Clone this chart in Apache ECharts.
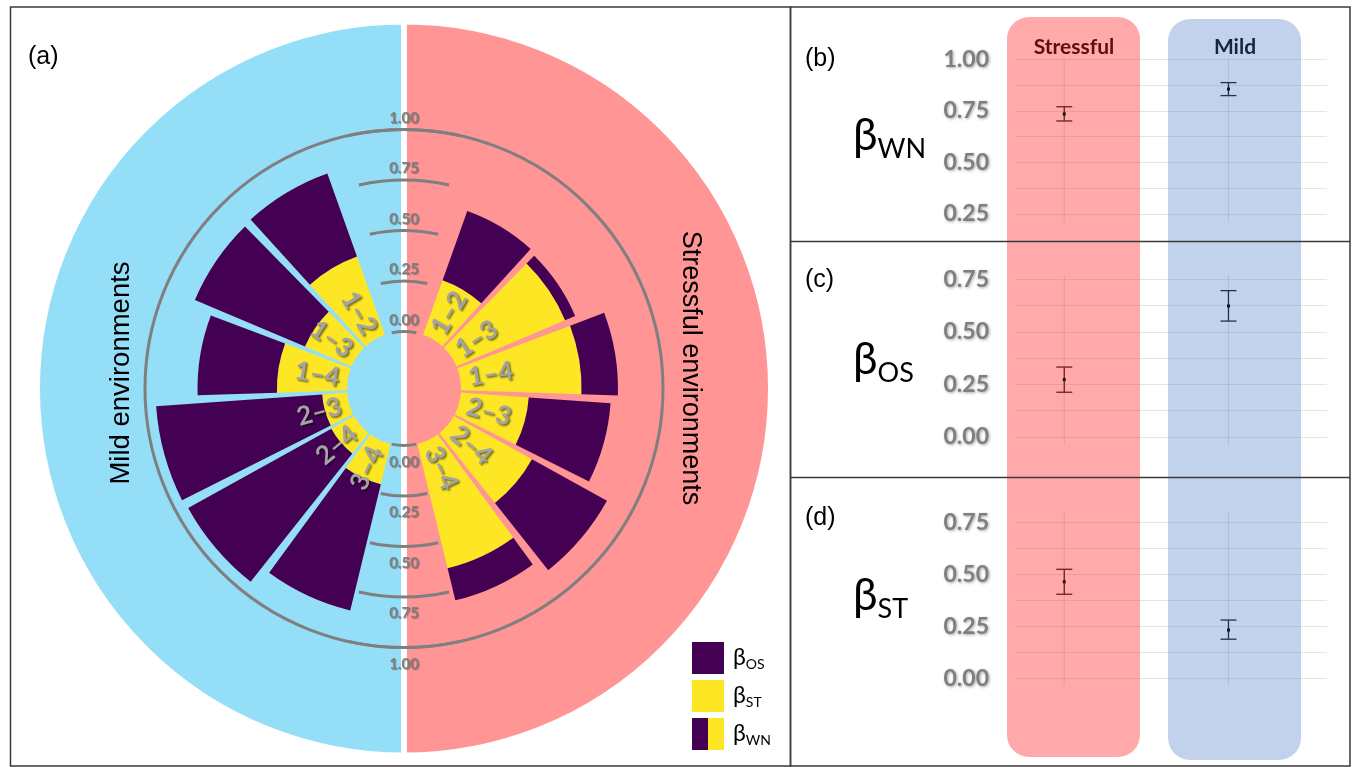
<!DOCTYPE html>
<html><head><meta charset="utf-8">
<script src="https://cdn.jsdelivr.net/npm/echarts@6/dist/echarts.min.js"></script>
<style>html,body{margin:0;padding:0;background:#fff}#c{width:1353px;height:767px}</style>
</head><body><div id="c"></div>
<script>
// ---------- data ----------
const pairs = ['1–2', '1–3', '1–4', '2–3', '2–4', '3–4'];
const stressST = [0.287, 0.584, 0.597, 0.337, 0.442, 0.634];
const stressOS = [0.364, 0.054, 0.180, 0.406, 0.424, 0.163];
const mildST = [0.411, 0.250, 0.347, 0.124, 0.129, 0.205];
const mildOS = [0.437, 0.592, 0.393, 0.824, 0.810, 0.643];
const envNames = ['Stressful environments', 'Mild environments'];
const envShares = [1, 1];
const groups = ['Stressful', 'Mild'];
const wnMean = [0.735, 0.856], wnLo = [0.701, 0.824], wnHi = [0.770, 0.887];
const osMean = [0.272, 0.623], osLo = [0.212, 0.551], osHi = [0.332, 0.696];
const stMean = [0.464, 0.232], stLo = [0.404, 0.188], stHi = [0.524, 0.280];
const betaNames = ['OS', 'ST', 'WN'];
const panelSubs = ['WN', 'OS', 'ST'];
const panelLetters = ['(a)', '(b)', '(c)', '(d)'];

// ---------- style / layout ----------
const PURPLE = '#440154', YELLOW = '#FDE725';
const RED_BG = '#FF9595', BLUE_BG = '#95DEF7';
const CX = 404, CY = 388.5, R0 = 57, R1 = 259;
const off = {axisLine:{show:false}, axisTick:{show:false}, axisLabel:{show:false}, splitLine:{show:false}, splitArea:{show:false}};
const greyTxt = {color:'#7f7f7f', fontWeight:'bold', fontFamily:'Lato', textShadowColor:'rgba(0,0,0,0.35)', textShadowBlur:2, textShadowOffsetX:1, textShadowOffsetY:1};

const chart = echarts.init(document.getElementById('c'), null, {width:1353, height:767});

function labelItem(params, api) {
  const cs = params.coordSys;
  const p = api.coord([api.value(0), api.value(1)]);
  const th = Math.atan2(p[1] - cs.cy, p[0] - cs.cx);
  let rot = -th;
  if (Math.abs(th) > Math.PI / 2) rot += Math.PI;
  return {type:'text', x:p[0], y:p[1], rotation:rot, z2:10,
    style:{text:pairs[api.value(1)], fill:'#a3a3a3', fontSize:26, fontWeight:'bold', fontFamily:'Lato',
      align:'center', verticalAlign:'middle',
      textShadowColor:'rgba(0,0,0,0.55)', textShadowBlur:2, textShadowOffsetX:1.5, textShadowOffsetY:1.5}};
}
const LABEL_R = 0.153;
function labelData() { return pairs.map((p, i) => [LABEL_R, i]); }

const panelRanges = [[0.21, 1.006], [-0.04, 0.77], [-0.036, 0.798]];
const ebColors = ['#6e1f24', '#22304d'];
function ebRender(k) {
  return function (params, api) {
    const x = api.value(0), m = api.value(1), lo = api.value(2), hi = api.value(3);
    const pm = api.coord([x, m]), pl = api.coord([x, lo]), ph = api.coord([x, hi]);
    const g0 = api.coord([x, panelRanges[k][0]]), g1 = api.coord([x, panelRanges[k][1]]);
    const col = ebColors[params.dataIndex], hw = 8;
    const ls = {stroke:col, lineWidth:1.3};
    return {type:'group', children:[
      {type:'line', shape:{x1:g0[0], y1:g0[1], x2:g1[0], y2:g1[1]}, style:{stroke:'rgba(90,90,110,0.16)', lineWidth:1}},
      {type:'line', shape:{x1:pl[0], y1:pl[1], x2:ph[0], y2:ph[1]}, style:ls},
      {type:'line', shape:{x1:pl[0]-hw, y1:pl[1], x2:pl[0]+hw, y2:pl[1]}, style:ls},
      {type:'line', shape:{x1:ph[0]-hw, y1:ph[1], x2:ph[0]+hw, y2:ph[1]}, style:ls},
      {type:'rect', shape:{x:pm[0]-1.5, y:pm[1]-1.5, width:3, height:3}, style:{fill:'#151515'}}
    ]};
  };
}
function ebData(mean, lo, hi) { return groups.map((g, i) => [i + 1, mean[i], lo[i], hi[i]]); }

const gridDefs = [
  {top:58.06, height:181.75, min:0.125, max:1.006},
  {top:275.1, height:187.9, min:-0.125, max:0.77},
  {top:512.3, height:192.0, min:-0.125, max:0.798}
];
const quarterFmt = v => (Math.abs(v * 4 - Math.round(v * 4)) < 1e-6 ? v.toFixed(2) : '');

const richBig = {
  b:{fontSize:44, lineHeight:44, fontFamily:'Lato', color:'#000'},
  s:{fontSize:27, lineHeight:27, fontFamily:'Lato', color:'#000', padding:[26,0,0,0]}
};
const richLeg = {
  b:{fontSize:23, lineHeight:23, fontFamily:'Lato', color:'#000', padding:[0,0,0,4]},
  s:{fontSize:14, lineHeight:14, fontFamily:'Lato', color:'#000', padding:[12,0,0,0]}
};

const graphics = [
  {type:'rect', z:-10, shape:{x:1007, y:17, width:133, height:740, r:22}, style:{fill:'#FFA9AB'}},
  {type:'rect', z:-10, shape:{x:1168, y:19, width:133, height:741, r:22}, style:{fill:'#C2D2EC'}},
  {type:'text', x:1074, y:47, style:{text:groups[0], fill:'#5b0f12', fontSize:21, fontWeight:'bold', fontFamily:'Lato', align:'center', verticalAlign:'middle'}},
  {type:'text', x:1235, y:47, style:{text:groups[1], fill:'#172440', fontSize:21, fontWeight:'bold', fontFamily:'Lato', align:'center', verticalAlign:'middle'}},
  {type:'text', x:121, y:373, rotation:Math.PI/2, style:{text:envNames[1], fill:'#000', fontSize:27.5, fontFamily:'Liberation Sans', align:'center', verticalAlign:'middle'}},
  {type:'text', x:690, y:368, rotation:-Math.PI/2, style:{text:envNames[0], fill:'#000', fontSize:27, fontFamily:'Liberation Sans', align:'center', verticalAlign:'middle'}},
  {type:'text', x:28, y:57, style:{text:panelLetters[0], fill:'#000', fontSize:25, fontFamily:'Liberation Sans', verticalAlign:'middle'}},
  {type:'text', x:805, y:59, style:{text:panelLetters[1], fill:'#000', fontSize:25, fontFamily:'Liberation Sans', verticalAlign:'middle'}},
  {type:'text', x:805, y:280, style:{text:panelLetters[2], fill:'#000', fontSize:25, fontFamily:'Liberation Sans', verticalAlign:'middle'}},
  {type:'text', x:805, y:518, style:{text:panelLetters[3], fill:'#000', fontSize:25, fontFamily:'Liberation Sans', verticalAlign:'middle'}},
  {type:'text', x:853, y:136, style:{text:'{b|β}{s|' + panelSubs[0] + '}', rich:richBig, verticalAlign:'middle'}},
  {type:'text', x:853, y:360, style:{text:'{b|β}{s|' + panelSubs[1] + '}', rich:richBig, verticalAlign:'middle'}},
  {type:'text', x:853, y:596, style:{text:'{b|β}{s|' + panelSubs[2] + '}', rich:richBig, verticalAlign:'middle'}},
  {type:'rect', z:20, shape:{x:10.5, y:7, width:780, height:759}, style:{fill:null, stroke:'#3a3a3a', lineWidth:1.5}},
  {type:'rect', z:20, shape:{x:790.5, y:7, width:559.5, height:759}, style:{fill:null, stroke:'#3a3a3a', lineWidth:1.5}},
  {type:'line', z:20, shape:{x1:790.5, y1:241.5, x2:1350, y2:241.5}, style:{stroke:'#3a3a3a', lineWidth:1.5}},
  {type:'line', z:20, shape:{x1:790.5, y1:477.5, x2:1350, y2:477.5}, style:{stroke:'#3a3a3a', lineWidth:1.5}}
];

const labelAxisBase = {...off, min:0, max:1, interval:0.25};
const labelStyle = {show:true, margin:0, align:'center', fontSize:15, formatter:v => v.toFixed(2), ...greyTxt, textShadowBlur:1};

const option = {
  animation:false,
  backgroundColor:'#ffffff',
  polar:[0,1,2,3,4,5].map(() => ({center:[CX, CY], radius:[R0, R1]})).concat([{center:[CX, CY], radius:[0, R1]}]),
  angleAxis:[
    {...off, polarIndex:0, type:'category', data:pairs, startAngle:71.5, endAngle:-77.5, clockwise:true},
    {...off, polarIndex:1, type:'category', data:pairs, startAngle:108.5, endAngle:257.5, clockwise:false},
    {...off, polarIndex:2, type:'value', min:0, max:1, startAngle:102.5, endAngle:77.5, clockwise:true},
    {...off, polarIndex:3, type:'value', min:0, max:1, startAngle:257.5, endAngle:282.5, clockwise:false},
    {...off, polarIndex:4, type:'value', min:0, max:1, startAngle:90},
    {...off, polarIndex:5, type:'value', min:0, max:1, startAngle:270},
    {...off, polarIndex:6, type:'value', min:0, max:1, startAngle:90, axisLine:{show:true, lineStyle:{color:'#7f7f7f', width:3}}}
  ],
  radiusAxis:[
    {...off, polarIndex:0, type:'value', min:0, max:1},
    {...off, polarIndex:1, type:'value', min:0, max:1},
    {...labelAxisBase, polarIndex:2, splitLine:{show:true, lineStyle:{color:'#7f7f7f', width:3}}},
    {...labelAxisBase, polarIndex:3, splitLine:{show:true, lineStyle:{color:'#7f7f7f', width:3}}},
    {...labelAxisBase, polarIndex:4, axisLabel:{...labelStyle, verticalAlign:'bottom', padding:[0,0,4,0]}},
    {...labelAxisBase, polarIndex:5, axisLabel:{...labelStyle, verticalAlign:'top', padding:[9,0,0,0]}},
    {...off, polarIndex:6, type:'value', min:0, max:1}
  ],
  grid:gridDefs.map(g => ({left:1015, width:312, top:g.top, height:g.height})),
  xAxis:gridDefs.map((g, i) => ({type:'value', gridIndex:i, min:0.7, max:2.6, show:false})),
  yAxis:gridDefs.map((g, i) => ({type:'value', gridIndex:i, min:g.min, max:g.max, interval:0.125,
    axisLine:{show:false}, axisTick:{show:false},
    splitLine:{show:true, showMinLine:false, showMaxLine:false, lineStyle:{color:'rgba(120,120,130,0.2)', width:1}},
    axisLabel:{margin:26, fontSize:23, formatter:quarterFmt, ...greyTxt, textShadowBlur:3}})),
  legend:{left:692, top:642, orient:'vertical', padding:0, itemWidth:32, itemHeight:32, itemGap:6, icon:'rect',
    selectedMode:false, data:betaNames.slice(), formatter:n => '{b|β}{s|' + n + '}', textStyle:{rich:richLeg}},
  graphic:{elements:graphics},
  series:[
    {type:'pie', z:-5, silent:true, center:[CX, CY], radius:[0, 367], startAngle:90, clockwise:true,
      label:{show:false}, labelLine:{show:false}, emphasis:{disabled:true},
      itemStyle:{borderColor:'#ffffff', borderWidth:6},
      data:envNames.map((n, i) => ({name:n, value:envShares[i], itemStyle:{color:[RED_BG, BLUE_BG][i]}}))},
    {type:'bar', name:'ST', coordinateSystem:'polar', polarIndex:0, stack:'r', data:stressST, barCategoryGap:'9%', itemStyle:{color:YELLOW}, silent:true},
    {type:'bar', name:'OS', coordinateSystem:'polar', polarIndex:0, stack:'r', data:stressOS, barCategoryGap:'9%', itemStyle:{color:PURPLE}, silent:true},
    {type:'bar', name:'ST', coordinateSystem:'polar', polarIndex:1, stack:'l', data:mildST, barCategoryGap:'9%', itemStyle:{color:YELLOW}, silent:true},
    {type:'bar', name:'OS', coordinateSystem:'polar', polarIndex:1, stack:'l', data:mildOS, barCategoryGap:'9%', itemStyle:{color:PURPLE}, silent:true},
    {type:'custom', coordinateSystem:'polar', polarIndex:0, z:5, silent:true, renderItem:labelItem, data:labelData()},
    {type:'custom', coordinateSystem:'polar', polarIndex:1, z:5, silent:true, renderItem:labelItem, data:labelData()},
    {type:'custom', xAxisIndex:0, yAxisIndex:0, silent:true, renderItem:ebRender(0), encode:{x:0, y:[1,2,3]}, data:ebData(wnMean, wnLo, wnHi)},
    {type:'custom', xAxisIndex:1, yAxisIndex:1, silent:true, renderItem:ebRender(1), encode:{x:0, y:[1,2,3]}, data:ebData(osMean, osLo, osHi)},
    {type:'custom', xAxisIndex:2, yAxisIndex:2, silent:true, renderItem:ebRender(2), encode:{x:0, y:[1,2,3]}, data:ebData(stMean, stLo, stHi)},
    {type:'scatter', name:'WN', xAxisIndex:0, yAxisIndex:0, data:[],
      itemStyle:{opacity:1, color:{type:'linear', x:0, y:0, x2:1, y2:0, colorStops:[
        {offset:0, color:PURPLE}, {offset:0.5, color:PURPLE}, {offset:0.5, color:YELLOW}, {offset:1, color:YELLOW}]}}}
  ]
};
chart.setOption(option);
</script>
</body></html>
